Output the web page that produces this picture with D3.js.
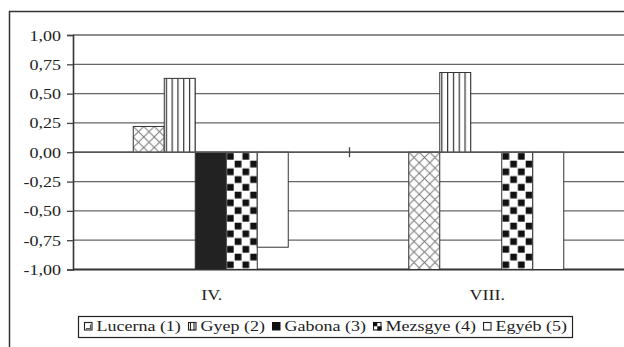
<!DOCTYPE html>
<html><head><meta charset="utf-8">
<script src="https://cdn.jsdelivr.net/npm/d3@7"></script>
<style>html,body{margin:0;padding:0;background:#fff;}svg{display:block;}</style>
</head><body>
<script>
const categories = ["IV.", "VIII."];
const seriesNames = ["Lucerna (1)", "Gyep (2)", "Gabona (3)", "Mezsgye (4)", "Egyéb (5)"];
const lucerna = [0.22, -1.00];
const gyep = [0.63, 0.68];
const gabona = [-1.00, 0.00];
const mezsgye = [-1.00, -1.00];
const egyeb = [-0.81, -1.00];
const yTicks = [-1, -0.75, -0.5, -0.25, 0, 0.25, 0.5, 0.75, 1];

(function(){
const seriesValues = [lucerna, gyep, gabona, mezsgye, egyeb];
const W = 624, H = 347;
const font = "'Liberation Serif', 'Times New Roman', serif";
const fs = 15, sx = 1.2;
const svg = d3.select("body").append("svg").attr("width", W).attr("height", H);

const defs = svg.append("defs");
const p1 = defs.append("pattern").attr("id","pLuc").attr("patternUnits","userSpaceOnUse")
  .attr("width",10.5).attr("height",10.5);
p1.append("rect").attr("width",10.5).attr("height",10.5).attr("fill","#fff");
p1.append("path").attr("d","M0,0L10.5,10.5M10.5,0L0,10.5").attr("stroke","#777").attr("stroke-width",1);
const p2 = defs.append("pattern").attr("id","pGyep").attr("patternUnits","userSpaceOnUse")
  .attr("width",5.8).attr("height",10).attr("x",1.5);
p2.append("rect").attr("width",5.8).attr("height",10).attr("fill","#fff");
p2.append("rect").attr("x",0).attr("width",1.2).attr("height",10).attr("fill","#333");
const cs = 7.75;
const p4 = defs.append("pattern").attr("id","pMez").attr("patternUnits","userSpaceOnUse")
  .attr("width",cs*2).attr("height",cs*2);
p4.append("rect").attr("width",cs*2).attr("height",cs*2).attr("fill","#fff");
p4.append("rect").attr("x",0.7).attr("y",0.7).attr("width",cs-1).attr("height",cs-1).attr("fill","#111");
p4.append("rect").attr("x",cs+0.7).attr("y",cs+0.7).attr("width",cs-1).attr("height",cs-1).attr("fill","#111");
const fills = ["url(#pLuc)", "url(#pGyep)", "#222", "url(#pMez)", "#fff"];

svg.append("path").attr("d", `M9.5,${H+5}V11.5H${W+5}`).attr("fill","none").attr("stroke","#333").attr("stroke-width",1.5);

const pL = 73, pR = 624, pT = 35, pB = 269.5;
const y = d3.scaleLinear().domain([-1, 1]).range([pB, pT]);
const x = d3.scaleBand().domain(categories).range([pL, pR]).paddingInner(0).paddingOuter(0);
const barW = 31;
const xs = d3.scaleBand().domain(d3.range(seriesNames.length)).range([0, barW * seriesNames.length]);

svg.append("g").selectAll("line").data(yTicks).join("line")
  .attr("x1", pL).attr("x2", pR)
  .attr("y1", d => y(d)).attr("y2", d => y(d))
  .attr("stroke", d => d === -1 ? "#333" : "#666").attr("stroke-width", d => d === -1 ? 1.8 : 1.3);

const groups = svg.append("g").selectAll("g").data(categories).join("g")
  .attr("transform", d => `translate(${x(d) + x.bandwidth()/2 - barW*seriesNames.length/2},0)`);
const bars = groups.selectAll("g").data((c, ci) => seriesValues.map((s, si) => ({si, v: s[ci]})).filter(d => d.v !== 0))
  .join("g")
  .attr("transform", d => `translate(${xs(d.si)},${y(Math.max(0, d.v))})`);
bars.append("rect")
  .attr("width", barW).attr("height", d => Math.abs(y(d.v) - y(0)))
  .attr("fill", d => fills[d.si]).attr("stroke", "#333").attr("stroke-width", 1);

svg.append("line").attr("x1", pL).attr("x2", pR).attr("y1", y(0)).attr("y2", y(0))
  .attr("stroke", "#555").attr("stroke-width", 1.3);
svg.append("g").selectAll("line").data(categories.slice(1)).join("line")
  .attr("x1", d => x(d) + 1).attr("x2", d => x(d) + 1).attr("y1", y(0) - 5).attr("y2", y(0) + 5)
  .attr("stroke", "#444").attr("stroke-width", 1.3);

const yAxis = d3.axisLeft(y).tickValues(yTicks).tickSize(6).tickPadding(7)
  .tickFormat(d => d3.format(".2f")(d).replace(".", ",").replace("−", "-"));
const ya = svg.append("g").attr("transform", `translate(${pL},0)`).call(yAxis);
ya.select(".domain").attr("stroke", "#333").attr("stroke-width", 1.6);
ya.selectAll(".tick line").attr("stroke", "#444").attr("stroke-width", 1.3);
ya.selectAll("text").attr("font-family", font).attr("font-size", fs).attr("fill", "#222")
  .attr("x", 0).attr("dy", null).attr("transform", `translate(-12,5) scale(${sx},1)`);

svg.append("g").selectAll("text").data(categories).join("text")
  .attr("transform", d => `translate(${x(d) + x.bandwidth()/2 + 1},300) scale(${sx},1)`)
  .attr("text-anchor", "middle").attr("font-family", font).attr("font-size", fs).attr("fill", "#222")
  .text(d => d);

// legend
const lg = svg.append("g");
const boxL = 78.5, boxR = 572.5, boxT = 316.5, boxB = 337.5;
lg.append("rect").attr("x", boxL).attr("y", boxT).attr("width", boxR - boxL).attr("height", boxB - boxT)
  .attr("fill", "#fff").attr("stroke", "#222").attr("stroke-width", 1.2);
const items = lg.selectAll("g").data(seriesNames).join("g");
const texts = items.append("text").attr("font-family", font).attr("font-size", fs).attr("fill", "#222").text(d => d);
const widths = texts.nodes().map(n => n.getComputedTextLength() * sx);
const iconS = 8.5, iconGap = 4;
const startX = 84, endX = 567;
const used = d3.sum(widths) + seriesNames.length * (iconS + iconGap);
const gap = (endX - startX - used) / (seriesNames.length - 1);
let cx = startX;
items.each(function(d, i) {
  const g = d3.select(this);
  const ix = cx, iy = 322;
  g.select("text").attr("transform", `translate(${ix + iconS + iconGap},331) scale(${sx},1)`);
  if (i === 2) {
    g.append("rect").attr("x", ix).attr("y", iy).attr("width", iconS).attr("height", iconS).attr("fill", "#111");
  } else {
    g.append("rect").attr("x", ix + 0.5).attr("y", iy + 0.5).attr("width", iconS - 1).attr("height", iconS - 1)
      .attr("fill", "#fff").attr("stroke", "#222").attr("stroke-width", 1.1);
    if (i === 0) {
      g.append("path").attr("d", `M${ix+2},${iy+iconS-2}H${ix+iconS-2}V${iy+2.5}`).attr("fill","none").attr("stroke","#555").attr("stroke-width",1.2);
    } else if (i === 1) {
      g.append("path").attr("d", `M${ix+2.5},${iy}V${iy+iconS}M${ix+6},${iy}V${iy+iconS}`).attr("stroke","#222").attr("stroke-width",1.1);
    } else if (i === 3) {
      g.append("rect").attr("x", ix).attr("y", iy).attr("width", iconS/2).attr("height", iconS/2).attr("fill", "#111");
      g.append("rect").attr("x", ix + iconS/2).attr("y", iy + iconS/2).attr("width", iconS/2).attr("height", iconS/2).attr("fill", "#111");
    }
  }
  cx = ix + iconS + iconGap + widths[i] + gap;
});
})();
</script>
</body></html>
